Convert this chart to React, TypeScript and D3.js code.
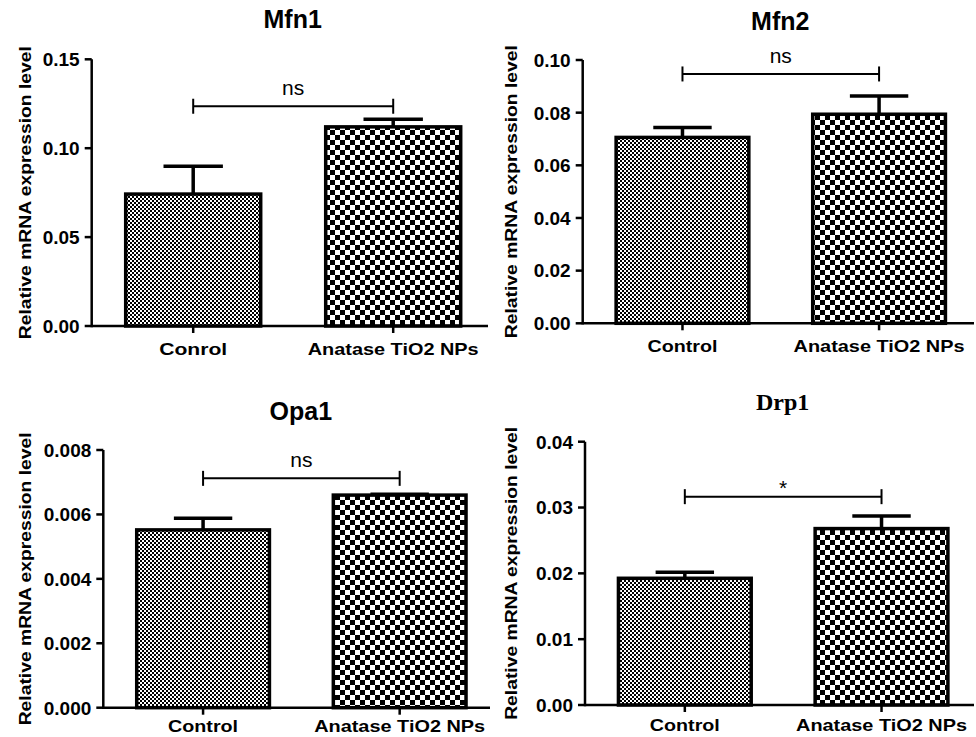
import React from 'react';
import * as d3 from 'd3';

const width = 976;
const height = 737;

// one entry per panel
const genes = ['Mfn1', 'Mfn2', 'Opa1', 'Drp1'];
const groupLabels = [
  ['Conrol', 'Anatase TiO2 NPs'],
  ['Control', 'Anatase TiO2 NPs'],
  ['Control', 'Anatase TiO2 NPs'],
  ['Control', 'Anatase TiO2 NPs'],
];
const controlMean = [0.0742, 0.0706, 0.00552, 0.01925];
const controlErr = [0.0157, 0.0038, 0.00036, 0.0009];
const anataseMean = [0.112, 0.0794, 0.0066, 0.0268];
const anataseErr = [0.0043, 0.0069, 0.00003, 0.0019];
const yMax = [0.15, 0.1, 0.008, 0.04];
const yTickStep = [0.05, 0.02, 0.002, 0.01];
const yTickDigits = [2, 2, 3, 2];
const significance = ['ns', 'ns', 'ns', '*'];
const bracketLevel = [0.1236, 0.0947, 0.00712, 0.03165];

const yLabel = 'Relative mRNA expression level';
const sans = '"Liberation Sans", Arial, sans-serif';
const serif = '"Liberation Serif", "Times New Roman", serif';

// pixel frame of every panel
const frames = [
  { left: 91.7, right: 488, bottom: 326, top: 59.3, step: 200, labelX: 25, titleY: 28, xLabelDy: 29, serifTitle: false },
  { left: 582.7, right: 974, bottom: 323.3, top: 60, step: 196.6, labelX: 511, titleY: 30, xLabelDy: 28.5, serifTitle: false },
  { left: 103.3, right: 490, bottom: 707.7, top: 450, step: 196.6, labelX: 25, titleY: 420, xLabelDy: 24.5, serifTitle: false },
  { left: 585, right: 974, bottom: 705, top: 441.7, step: 196.7, labelX: 511, titleY: 410, xLabelDy: 26, serifTitle: true },
];

const padInner = 0.325;
const padOuter = 0.17;
const fills = ['url(#fineCheck)', 'url(#coarseCheck)'];

function Panel({ i }: { i: number }) {
  const f = frames[i];
  const labels = groupLabels[i];
  const means = [controlMean[i], anataseMean[i]];
  const errs = [controlErr[i], anataseErr[i]];

  const x = d3
    .scaleBand()
    .domain(labels)
    .range([f.left, f.left + f.step * (2 - padInner + 2 * padOuter)])
    .paddingInner(padInner)
    .paddingOuter(padOuter);

  const y = d3.scaleLinear().domain([0, yMax[i]]).range([f.bottom, f.top]);
  const ticks = d3.range(0, yMax[i] + yTickStep[i] / 2, yTickStep[i]);
  const fmt = d3.format(`.${yTickDigits[i]}f`);
  const bw = x.bandwidth();
  const cap = bw * 0.22;
  const cx = (d: string) => (x(d) as number) + bw / 2;

  const by = y(bracketLevel[i]);
  const x1 = cx(labels[0]);
  const x2 = cx(labels[1]);
  const midY = (f.bottom + f.top) / 2;

  return (
    <g>
      <text
        x={f.left + f.step * 1.005}
        y={f.titleY}
        textAnchor="middle"
        fontFamily={f.serifTitle ? serif : sans}
        fontWeight="bold"
        fontSize={f.serifTitle ? 24 : 25}
      >
        {genes[i]}
      </text>

      <text
        transform={`translate(${f.labelX},${midY}) rotate(-90)`}
        textAnchor="middle"
        dy="0.35em"
        fontFamily={sans}
        fontWeight="bold"
        fontSize={16}
        textLength={293}
        lengthAdjust="spacingAndGlyphs"
      >
        {yLabel}
      </text>

      {labels.map((d, j) => (
        <g key={d}>
          <rect
            x={x(d)}
            y={y(means[j])}
            width={bw}
            height={y(0) - y(means[j])}
            fill={fills[j]}
            stroke="#000"
            strokeWidth={3.5}
          />
          <line x1={cx(d)} x2={cx(d)} y1={y(means[j])} y2={y(means[j] + errs[j])} stroke="#000" strokeWidth={3.5} />
          <line
            x1={cx(d) - cap}
            x2={cx(d) + cap}
            y1={y(means[j] + errs[j])}
            y2={y(means[j] + errs[j])}
            stroke="#000"
            strokeWidth={3.5}
          />
        </g>
      ))}

      {/* y axis */}
      <line x1={f.left} x2={f.left} y1={f.bottom + 1.2} y2={f.top} stroke="#000" strokeWidth={2.5} />
      {ticks.map(t => (
        <g key={t}>
          <line x1={f.left - 7} x2={f.left} y1={y(t)} y2={y(t)} stroke="#000" strokeWidth={2.5} />
          <text
            x={f.left - 12}
            y={y(t)}
            dy="0.36em"
            textAnchor="end"
            fontFamily={sans}
            fontWeight="bold"
            fontSize={19}
          >
            {fmt(t)}
          </text>
        </g>
      ))}

      {/* x axis */}
      <line x1={f.left} x2={f.right} y1={f.bottom} y2={f.bottom} stroke="#000" strokeWidth={2.5} />
      {labels.map(d => (
        <g key={d}>
          <line x1={cx(d)} x2={cx(d)} y1={f.bottom} y2={f.bottom + 7} stroke="#000" strokeWidth={2.5} />
          <text
            x={cx(d)}
            y={f.bottom + f.xLabelDy}
            textAnchor="middle"
            fontFamily={sans}
            fontWeight="bold"
            fontSize={17}
            textLength={d.length > 10 ? 171 : d === 'Conrol' ? 68 : 70}
            lengthAdjust="spacingAndGlyphs"
          >
            {d}
          </text>
        </g>
      ))}

      {/* significance bracket */}
      <line x1={x1} x2={x2} y1={by} y2={by} stroke="#000" strokeWidth={2} />
      <line x1={x1} x2={x1} y1={by - 7.5} y2={by + 7.5} stroke="#000" strokeWidth={2} />
      <line x1={x2} x2={x2} y1={by - 7.5} y2={by + 7.5} stroke="#000" strokeWidth={2} />
      <text
        x={(x1 + x2) / 2}
        y={significance[i] === '*' ? by - 2 : by - 11}
        textAnchor="middle"
        fontFamily={sans}
        fontSize={21}
      >
        {significance[i]}
      </text>
    </g>
  );
}

export default function App() {
  return (
    <svg
      width={width}
      height={height}
      style={{ position: 'absolute', left: 0, top: 0, background: '#fff' }}
    >
      <defs>
        <pattern id="fineCheck" width={4} height={4} patternUnits="userSpaceOnUse">
          <rect width={4} height={4} fill="#fff" />
          <rect width={2} height={2} fill="#000" />
          <rect x={2} y={2} width={2} height={2} fill="#000" />
        </pattern>
        <pattern id="coarseCheck" width={10} height={10} patternUnits="userSpaceOnUse">
          <rect width={10} height={10} fill="#fff" />
          <rect width={5} height={5} fill="#000" />
          <rect x={5} y={5} width={5} height={5} fill="#000" />
        </pattern>
      </defs>
      {genes.map((g, i) => (
        <Panel key={g} i={i} />
      ))}
    </svg>
  );
}
